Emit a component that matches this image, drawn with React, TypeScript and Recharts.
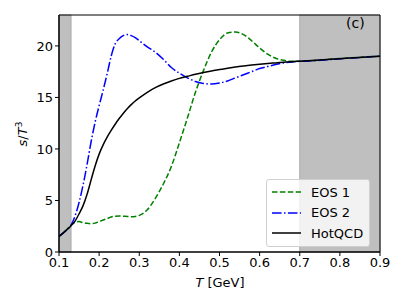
import { LineChart, Line, XAxis, YAxis, ReferenceArea } from 'recharts';

const temps = [
  0.1, 0.115, 0.13, 0.14, 0.15, 0.16, 0.17, 0.18, 0.19, 0.2, 0.21, 0.22, 0.23, 0.24, 0.25, 0.26, 0.27,
  0.28, 0.29, 0.3, 0.32, 0.34, 0.36, 0.38, 0.4, 0.42, 0.44, 0.46, 0.48, 0.5, 0.52, 0.54, 0.56, 0.58,
  0.6, 0.62, 0.64, 0.66, 0.68, 0.7, 0.75, 0.8, 0.85, 0.9,
];

const eos1 = [
  1.5, 2.0, 2.6, 2.9, 2.95, 2.85, 2.78, 2.75, 2.8, 2.95, 3.1, 3.25, 3.4, 3.48, 3.5, 3.48, 3.45,
  3.43, 3.45, 3.55, 4.1, 5.2, 6.6, 8.3, 10.6, 13.0, 15.5, 17.6, 19.4, 20.6, 21.25, 21.35, 21.1, 20.5,
  19.8, 19.2, 18.8, 18.6, 18.5, 18.5, 18.62, 18.78, 18.9, 19.0,
];

const eos2 = [
  1.5, 2.0, 2.6, 3.5, 4.8, 6.5, 8.5, 10.7, 12.6, 14.2, 15.7, 17.3, 19.0, 20.2, 20.7, 21.0, 21.1,
  21.0, 20.8, 20.5, 19.9, 19.4, 18.7, 17.9, 17.35, 16.9, 16.55, 16.35, 16.3, 16.4, 16.6, 16.9, 17.2, 17.5,
  17.8, 18.0, 18.2, 18.35, 18.45, 18.5, 18.6, 18.75, 18.88, 19.0,
];

const hotqcd = [
  1.5, 2.0, 2.55, 3.0, 3.7, 4.5, 5.6, 7.0, 8.35, 9.5, 10.4, 11.15, 11.8, 12.4, 12.95, 13.45, 13.9,
  14.3, 14.65, 14.95, 15.5, 15.95, 16.3, 16.6, 16.85, 17.05, 17.25, 17.42, 17.57, 17.7, 17.83, 17.95, 18.05, 18.14,
  18.22, 18.29, 18.35, 18.41, 18.47, 18.52, 18.64, 18.76, 18.88, 19.0,
];

const xTicks = [0.1, 0.2, 0.3, 0.4, 0.5, 0.6, 0.7, 0.8, 0.9];
const yTicks = [0, 5, 10, 15, 20];
const shaded = [
  [0.1, 0.13],
  [0.7, 0.9],
];

const data = temps.map((t, i) => ({ t, eos1: eos1[i], eos2: eos2[i], hotqcd: hotqcd[i] }));

const font = 'DejaVu Sans, sans-serif';
const tickStyle = { fill: '#000', fontSize: 13, fontFamily: font };

const XLabel = () => (
  <text x={220} y={287} textAnchor="middle" fontSize={13} fontFamily={font} fill="#000">
    <tspan fontStyle="italic">T</tspan> [GeV]
  </text>
);

const YLabel = () => (
  <text
    x={27}
    y={134}
    textAnchor="middle"
    fontSize={13}
    fontFamily={font}
    fill="#000"
    transform="rotate(-90 27 134)"
  >
    <tspan fontStyle="italic">s</tspan>/<tspan fontStyle="italic">T</tspan>
    <tspan fontSize={9} dy={-5}>3</tspan>
  </text>
);

const legendItems = [
  { name: 'EOS 1', color: '#008000', dash: '5.5 2.4' },
  { name: 'EOS 2', color: '#0000ff', dash: '9.6 2.4 1.5 2.4' },
  { name: 'HotQCD', color: '#000000', dash: undefined },
];

export default function App() {
  return (
    <div style={{ position: 'relative', width: 407, height: 305, background: '#fff' }}>
      <style>{`body{margin:0}`}</style>
      <LineChart width={407} height={305} data={data} margin={{ top: 15, right: 27, left: 0, bottom: 0 }}>
        {shaded.map(([a, b]) => (
          <ReferenceArea
            key={a}
            x1={a}
            x2={b}
            y1={0}
            y2={23}
            fill="#bfbfbf"
            fillOpacity={1}
            stroke="#aaaaaa"
            strokeWidth={1}
          />
        ))}
        <XAxis
          dataKey="t"
          type="number"
          domain={[0.1, 0.9]}
          ticks={xTicks}
          tickFormatter={(v: number) => v.toFixed(1)}
          height={53}
          tick={tickStyle}
          tickSize={4}
          tickLine={{ stroke: '#000' }}
          axisLine={{ stroke: '#000' }}
          allowDataOverflow
          label={<XLabel />}
        />
        <YAxis
          type="number"
          domain={[0, 23]}
          ticks={yTicks}
          width={59}
          tick={tickStyle}
          tickSize={4}
          tickLine={{ stroke: '#000' }}
          axisLine={{ stroke: '#000' }}
          allowDataOverflow
          label={<YLabel />}
        />
        <Line
          type="monotone"
          dataKey="eos1"
          name="EOS 1"
          stroke="#008000"
          strokeWidth={1.5}
          strokeDasharray="5.5 2.4"
          dot={false}
          isAnimationActive={false}
        />
        <Line
          type="monotone"
          dataKey="eos2"
          name="EOS 2"
          stroke="#0000ff"
          strokeWidth={1.5}
          strokeDasharray="9.6 2.4 1.5 2.4"
          dot={false}
          isAnimationActive={false}
        />
        <Line
          type="monotone"
          dataKey="hotqcd"
          name="HotQCD"
          stroke="#000"
          strokeWidth={1.5}
          dot={false}
          isAnimationActive={false}
        />
        <ReferenceArea x1={0.1} x2={0.9} y1={0} y2={23} fill="none" stroke="#000" strokeWidth={1} />
      </LineChart>
      <div
        style={{
          position: 'absolute',
          left: 266,
          top: 179,
          background: 'rgba(255,255,255,0.8)',
          border: '1px solid #d0d0d0',
          borderRadius: 3,
          padding: '2px 6px 2px 5px',
          fontFamily: font,
          fontSize: 13,
          color: '#000',
        }}
      >
        {legendItems.map((it) => (
          <div key={it.name} style={{ display: 'flex', alignItems: 'center', height: 20.5 }}>
            <svg width={29} height={10} style={{ marginRight: 10 }}>
              <line x1={0} y1={5} x2={29} y2={5} stroke={it.color} strokeWidth={1.5} strokeDasharray={it.dash} />
            </svg>
            <span>{it.name}</span>
          </div>
        ))}
      </div>
      <div
        style={{
          position: 'absolute',
          left: 346,
          top: 15,
          fontFamily: font,
          fontSize: 14,
          color: '#000',
        }}
      >
        (c)
      </div>
    </div>
  );
}
